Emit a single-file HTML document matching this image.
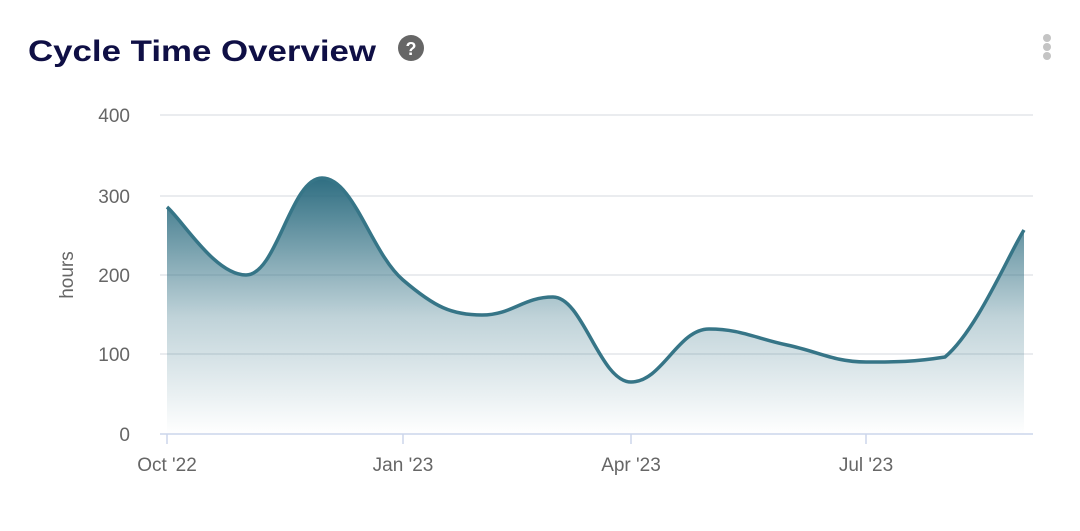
<!DOCTYPE html>
<html><head><meta charset="utf-8">
<style>
html,body{margin:0;padding:0;background:#fff;width:1080px;height:531px;overflow:hidden;}
svg{display:block;font-family:"Liberation Sans",Arial,sans-serif;}
</style></head><body>
<svg id="s" width="1080" height="531" viewBox="0 0 1080 531">
<defs>
<linearGradient id="g" gradientUnits="userSpaceOnUse" x1="0" y1="175" x2="0" y2="434">
<stop offset="0" stop-color="#2c6c80" stop-opacity="1"/>
<stop offset="0.55" stop-color="#2c6c80" stop-opacity="0.3"/>
<stop offset="1" stop-color="#2c6c80" stop-opacity="0"/>
</linearGradient>
</defs>
<text x="28" y="61" font-size="30" font-weight="bold" fill="#0f0f45" textLength="348" lengthAdjust="spacingAndGlyphs">Cycle Time Overview</text>
<circle cx="411" cy="48" r="13" fill="#666"/>
<text x="411" y="55" font-size="18" font-weight="bold" fill="#fff" text-anchor="middle">?</text>
<circle cx="1047" cy="38" r="4" fill="#c4c4c4"/>
<circle cx="1047" cy="47" r="4" fill="#c4c4c4"/>
<circle cx="1047" cy="56" r="4" fill="#c4c4c4"/>
<g stroke="#e3e6ea" stroke-width="1.5">
<line x1="160" x2="1033" y1="115" y2="115"/>
<line x1="160" x2="1033" y1="196" y2="196"/>
<line x1="160" x2="1033" y1="275" y2="275"/>
<line x1="160" x2="1033" y1="354" y2="354"/>
</g>
<line x1="160" x2="1033" y1="434" y2="434" stroke="#ccd6eb" stroke-width="1.5"/>
<g stroke="#ccd6eb" stroke-width="1.5">
<line x1="167" x2="167" y1="434" y2="444"/>
<line x1="403" x2="403" y1="434" y2="444"/>
<line x1="631" x2="631" y1="434" y2="444"/>
<line x1="866" x2="866" y1="434" y2="444"/>
</g>
<g font-size="19" fill="#666" text-anchor="end">
<text x="130" y="122">400</text>
<text x="130" y="203">300</text>
<text x="130" y="282">200</text>
<text x="130" y="361">100</text>
<text x="130" y="441">0</text>
</g>
<text transform="translate(73,275) rotate(-90)" font-size="19" fill="#666" text-anchor="middle">hours</text>
<g font-size="19" fill="#666" text-anchor="middle">
<text x="167" y="471">Oct '22</text>
<text x="403" y="471">Jan '23</text>
<text x="631" y="471">Apr '23</text>
<text x="866" y="471">Jul '23</text>
</g>
<path id="area" fill="url(#g)"/>
<path id="line" fill="none" stroke="#367587" stroke-width="3.5"/>
</svg>
<script>
var p=[[167,207],[246,275],[322,178],[403,280],[482,315],[553,297],[631,382],[709,329],[787,345],[866,362],[945,357],[1024,230]];
function cl(v,a,b){var lo=Math.min(a,b),hi=Math.max(a,b);return Math.max(lo,Math.min(hi,v));}
function spline(pts){
 var d="M"+pts[0][0]+","+pts[0][1];
 for(var i=0;i<pts.length-1;i++){
  var p0=pts[i-1]||pts[i],p1=pts[i],p2=pts[i+1],p3=pts[i+2]||p2;
  var k=0.2;
  var c1x=p1[0]+(p2[0]-p0[0])*k, c1y=p1[1]+(p2[1]-p0[1])*k;
  var c2x=p2[0]-(p3[0]-p1[0])*k, c2y=p2[1]-(p3[1]-p1[1])*k;
  if((p1[1]-p0[1])*(p2[1]-p1[1])<0) c1y=p1[1];
  if((p2[1]-p1[1])*(p3[1]-p2[1])<0) c2y=p2[1];
  c1y=cl(c1y,p1[1],p2[1]); c2y=cl(c2y,p1[1],p2[1]);
  d+=" C"+c1x.toFixed(1)+","+c1y.toFixed(1)+" "+c2x.toFixed(1)+","+c2y.toFixed(1)+" "+p2[0]+","+p2[1];
 }
 return d;
}
var d=spline(p);
document.getElementById("line").setAttribute("d",d);
document.getElementById("area").setAttribute("d",d+" L1024,434 L167,434 Z");
</script>
</body></html>
